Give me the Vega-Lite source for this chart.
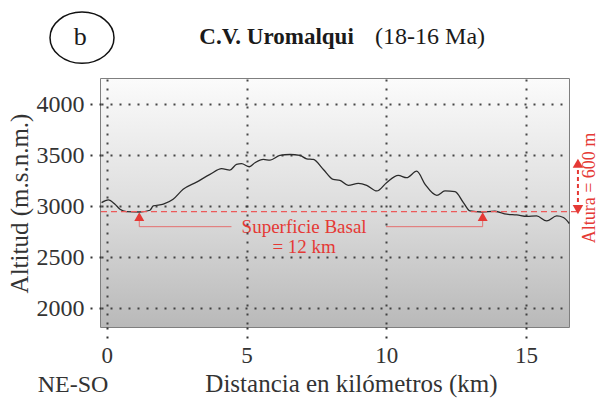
{
  "$schema": "https://vega.github.io/schema/vega-lite/v6.json",
  "width": 468,
  "height": 248,
  "autosize": {"type": "none"},
  "padding": {"left": 101, "top": 79, "right": 30, "bottom": 72},
  "background": "white",
  "config": {
    "font": "Liberation Serif",
    "view": {"stroke": "#555555", "strokeWidth": 1.5},
    "axis": {
      "labelFont": "Liberation Serif",
      "titleFont": "Liberation Serif",
      "labelColor": "#333333",
      "titleColor": "#333333",
      "titleFontWeight": "normal",
      "domain": false,
      "gridColor": "#333333",
      "gridDash": [2, 7],
      "gridWidth": 2,
      "gridOpacity": 0.9,
      "tickColor": "#333333",
      "tickDash": [2, 7],
      "tickWidth": 2,
      "format": "d"
    }
  },
  "datasets": {
    "profile": [
      {"km": -0.19, "alt": 3034}, {"km": 0.05, "alt": 3060}, {"km": 0.29, "alt": 3018},
      {"km": 0.47, "alt": 2969}, {"km": 0.7, "alt": 2946}, {"km": 1.18, "alt": 2942},
      {"km": 1.54, "alt": 2959}, {"km": 1.66, "alt": 3001}, {"km": 2.02, "alt": 3018},
      {"km": 2.37, "alt": 3066}, {"km": 2.73, "alt": 3164}, {"km": 3.21, "alt": 3235},
      {"km": 3.69, "alt": 3310}, {"km": 4.11, "alt": 3366}, {"km": 4.4, "alt": 3352},
      {"km": 4.64, "alt": 3408}, {"km": 4.82, "alt": 3415}, {"km": 5.1, "alt": 3385},
      {"km": 5.3, "alt": 3424}, {"km": 5.6, "alt": 3457}, {"km": 5.84, "alt": 3450},
      {"km": 6.19, "alt": 3496}, {"km": 6.55, "alt": 3505}, {"km": 6.91, "alt": 3496},
      {"km": 7.15, "alt": 3463}, {"km": 7.39, "alt": 3457}, {"km": 7.75, "alt": 3359},
      {"km": 8.1, "alt": 3261}, {"km": 8.34, "alt": 3252}, {"km": 8.64, "alt": 3203},
      {"km": 9.0, "alt": 3222}, {"km": 9.3, "alt": 3203}, {"km": 9.66, "alt": 3148},
      {"km": 10.01, "alt": 3229}, {"km": 10.43, "alt": 3300}, {"km": 10.73, "alt": 3278},
      {"km": 11.09, "alt": 3342}, {"km": 11.39, "alt": 3213}, {"km": 11.81, "alt": 3105},
      {"km": 12.1, "alt": 3148}, {"km": 12.46, "alt": 3141}, {"km": 12.76, "alt": 3034},
      {"km": 13.0, "alt": 2952}, {"km": 13.42, "alt": 2942}, {"km": 13.89, "alt": 2949},
      {"km": 14.31, "alt": 2920}, {"km": 14.67, "alt": 2913}, {"km": 15.03, "alt": 2898},
      {"km": 15.38, "alt": 2903}, {"km": 15.74, "alt": 2854}, {"km": 16.1, "alt": 2903},
      {"km": 16.34, "alt": 2888}, {"km": 16.55, "alt": 2829}
    ]
  },
  "layer": [
    {
      "data": {"values": [{"km": -0.21, "km2": 16.54, "alt": 1815, "alt2": 4245}]},
      "mark": {
        "type": "rect",
        "color": {
          "gradient": "linear", "x1": 0, "y1": 0, "x2": 0, "y2": 1,
          "stops": [
            {"offset": 0, "color": "#fbfbfb"},
            {"offset": 0.5, "color": "#dedede"},
            {"offset": 1, "color": "#b9b9b9"}
          ]
        }
      },
      "encoding": {
        "x": {
          "field": "km", "type": "quantitative",
          "scale": {"domain": [-0.21, 16.54], "nice": false, "zero": false},
          "axis": {
            "values": [0, 5, 10, 15],
            "grid": true,
            "zindex": 1,
            "title": "Distancia en kilómetros (km)",
            "titleFontSize": 25,
            "titlePadding": 4,
            "titleX": 250,
            "labelFontSize": 23,
            "labelPadding": 3,
            "tickSize": 14
          }
        },
        "x2": {"field": "km2"},
        "y": {
          "field": "alt", "type": "quantitative",
          "scale": {"domain": [1815, 4245], "nice": false, "zero": false},
          "axis": {
            "values": [2000, 2500, 3000, 3500, 4000],
            "grid": true,
            "zindex": 1,
            "title": "Altitud (m.s.n.m.)",
            "titleFontSize": 25,
            "titlePadding": 4,
            "labelFontSize": 24,
            "labelPadding": 1,
            "tickSize": 16
          }
        },
        "y2": {"field": "alt2"}
      }
    },
    {
      "data": {"name": "profile"},
      "mark": {"type": "line", "color": "#2b2b2b", "strokeWidth": 1.3, "interpolate": "monotone"},
      "encoding": {
        "x": {"field": "km", "type": "quantitative"},
        "y": {"field": "alt", "type": "quantitative"}
      }
    },
    {
      "data": {"values": [{"km": -0.21, "km2": 16.9, "alt": 2946}]},
      "mark": {"type": "rule", "color": "#ec5a5a", "strokeWidth": 1.2, "strokeDash": [6, 4]},
      "encoding": {
        "x": {"field": "km", "type": "quantitative"},
        "x2": {"field": "km2"},
        "y": {"field": "alt", "type": "quantitative"}
      }
    },
    {
      "data": {"values": [
        {"km": 1.16, "km2": 4.46, "alt": 2798},
        {"km": 9.99, "km2": 13.45, "alt": 2798}
      ]},
      "mark": {"type": "rule", "color": "#e57070", "strokeWidth": 1},
      "encoding": {
        "x": {"field": "km", "type": "quantitative"},
        "x2": {"field": "km2"},
        "y": {"field": "alt", "type": "quantitative"}
      }
    },
    {
      "data": {"values": [
        {"km": 1.16, "alt": 2798, "alt2": 2880},
        {"km": 13.45, "alt": 2798, "alt2": 2880}
      ]},
      "mark": {"type": "rule", "color": "#e57070", "strokeWidth": 1},
      "encoding": {
        "x": {"field": "km", "type": "quantitative"},
        "y": {"field": "alt", "type": "quantitative"},
        "y2": {"field": "alt2"}
      }
    },
    {
      "data": {"values": [
        {"km": 1.16, "alt": 2896},
        {"km": 13.45, "alt": 2896}
      ]},
      "mark": {"type": "point", "shape": "triangle-up", "filled": true, "color": "#e53935", "opacity": 1, "size": 100},
      "encoding": {
        "x": {"field": "km", "type": "quantitative"},
        "y": {"field": "alt", "type": "quantitative"}
      }
    },
    {
      "data": {"values": [
        {"km": 7.06, "alt": 2795, "label": "Superficie Basal"},
        {"km": 7.06, "alt": 2599, "label": "= 12 km"}
      ]},
      "mark": {"type": "text", "color": "#e53935", "fontSize": 19, "font": "Liberation Serif", "baseline": "middle", "align": "center"},
      "encoding": {
        "x": {"field": "km", "type": "quantitative"},
        "y": {"field": "alt", "type": "quantitative"},
        "text": {"field": "label"}
      }
    },
    {
      "data": {"values": [{"km": 16.86, "alt": 2971, "alt2": 3412}]},
      "mark": {"type": "rule", "color": "#e53935", "strokeWidth": 2, "strokeDash": [4, 3], "clip": false},
      "encoding": {
        "x": {"field": "km", "type": "quantitative"},
        "y": {"field": "alt", "type": "quantitative"},
        "y2": {"field": "alt2"}
      }
    },
    {
      "data": {"values": [
        {"km": 16.86, "alt": 3420, "shape": "triangle-up"},
        {"km": 16.86, "alt": 2965, "shape": "triangle-down"}
      ]},
      "mark": {"type": "point", "filled": true, "color": "#e53935", "opacity": 1, "size": 110, "clip": false},
      "encoding": {
        "x": {"field": "km", "type": "quantitative"},
        "y": {"field": "alt", "type": "quantitative"},
        "shape": {"field": "shape", "type": "nominal", "scale": {"domain": ["triangle-up", "triangle-down"], "range": ["triangle-up", "triangle-down"]}, "legend": null}
      }
    },
    {
      "data": {"values": [{"km": 17.28, "alt": 3177, "label": "Altura = 600 m"}]},
      "mark": {"type": "text", "color": "#e53935", "fontSize": 18, "font": "Liberation Serif", "angle": 270, "baseline": "middle", "align": "center", "clip": false},
      "encoding": {
        "x": {"field": "km", "type": "quantitative"},
        "y": {"field": "alt", "type": "quantitative"},
        "text": {"field": "label"}
      }
    },
    {
      "data": {"values": [{"km": -0.89, "alt": 4650}]},
      "mark": {
        "type": "point",
        "shape": "M -1 0 A 1 0.8 0 1 1 1 0 A 1 0.8 0 1 1 -1 0 Z",
        "size": 4096,
        "filled": false,
        "color": "#111111",
        "strokeWidth": 1.5,
        "opacity": 1
      },
      "encoding": {
        "x": {"field": "km", "type": "quantitative"},
        "y": {"field": "alt", "type": "quantitative"}
      }
    },
    {
      "data": {"values": [{"km": -0.95, "alt": 4656, "label": "b"}]},
      "mark": {"type": "text", "color": "#1a1a1a", "font": "Liberation Serif", "fontSize": 26, "baseline": "middle", "align": "center"},
      "encoding": {
        "x": {"field": "km", "type": "quantitative"},
        "y": {"field": "alt", "type": "quantitative"},
        "text": {"field": "label"}
      }
    },
    {
      "data": {"values": [{"km": 3.31, "alt": 4656, "label": "C.V. Uromalqui"}]},
      "mark": {"type": "text", "color": "#1a1a1a", "font": "Liberation Serif", "fontSize": 23, "fontWeight": "bold", "baseline": "middle", "align": "left"},
      "encoding": {
        "x": {"field": "km", "type": "quantitative"},
        "y": {"field": "alt", "type": "quantitative"},
        "text": {"field": "label"}
      }
    },
    {
      "data": {"values": [{"km": 9.6, "alt": 4656, "label": "(18-16 Ma)"}]},
      "mark": {"type": "text", "color": "#1a1a1a", "font": "Liberation Serif", "fontSize": 24, "baseline": "middle", "align": "left"},
      "encoding": {
        "x": {"field": "km", "type": "quantitative"},
        "y": {"field": "alt", "type": "quantitative"},
        "text": {"field": "label"}
      }
    },
    {
      "data": {"values": [{"km": -1.21, "alt": 1247, "label": "NE-SO"}]},
      "mark": {"type": "text", "color": "#333333", "font": "Liberation Serif", "fontSize": 24, "baseline": "middle", "align": "center"},
      "encoding": {
        "x": {"field": "km", "type": "quantitative"},
        "y": {"field": "alt", "type": "quantitative"},
        "text": {"field": "label"}
      }
    }
  ]
}
